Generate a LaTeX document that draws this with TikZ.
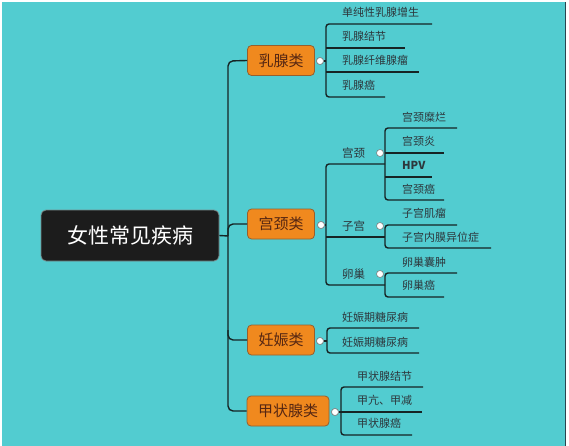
\documentclass[tikz,border=0pt]{standalone}
\usepackage{fontspec}
\setmainfont{Noto Sans CJK SC}
\setsansfont{Noto Sans CJK SC}
\definecolor{bgteal}{RGB}{82,204,208}
\definecolor{linedark}{RGB}{22,36,36}
\definecolor{leaftext}{RGB}{45,55,60}
\definecolor{orangefill}{RGB}{240,137,30}
\definecolor{orangeedge}{RGB}{150,95,45}
\definecolor{branchtext}{RGB}{85,38,18}
\definecolor{knobedge}{RGB}{120,130,130}
\definecolor{rootfill}{RGB}{28,28,28}
\definecolor{rootedge}{RGB}{120,140,140}
\definecolor{frameedge}{RGB}{40,70,80}
\begin{document}
\begin{tikzpicture}[x=1pt,y=-1pt,
  conn/.style={draw=linedark, line width=1.4pt},
  rc/.style={rounded corners=3pt},
  leaf/.style={anchor=west, inner sep=0pt, text=leaftext, font=\fontsize{11}{13}\selectfont},
  mid/.style={anchor=west, inner sep=0pt, text=leaftext, font=\fontsize{11.5}{13}\selectfont},
  branch/.style={draw=orangeedge, line width=0.8pt, fill=orangefill, rounded corners=4pt, inner sep=0pt, minimum height=30pt, text=branchtext, font=\fontsize{15}{17}\selectfont},
  knob/.style={circle, draw=knobedge, line width=0.6pt, fill=white, inner sep=0pt, minimum size=7pt}
]
\useasboundingbox (0,0) rectangle (569,446);
\fill[white] (0,0) rectangle (569,446);
\fill[bgteal] (2,2) rectangle (565,446);
\draw[frameedge, line width=1pt] (565.5,2) -- (565.5,446);

% root
\node[draw=rootedge, line width=0.8pt, fill=rootfill, rounded corners=5pt, minimum width=178pt, minimum height=51pt, inner sep=0pt, text=white, font=\fontsize{21}{24}\selectfont] (root) at (130,235.5) {女性常见疾病};

% branches
\node[branch, minimum width=67pt] (b1) at (281,60.5) {乳腺类};
\node[branch, minimum width=67pt] (b2) at (281,224) {宫颈类};
\node[branch, minimum width=67pt] (b3) at (281,340) {妊娠类};
\node[branch, minimum width=82pt] (b4) at (288,411) {甲状腺类};

% trunk
\coordinate (t1) at (228,61);
\coordinate (t4) at (228,411);
\coordinate (tr) at (228,236);
\coordinate (t3) at (228,330);
\draw[conn, rounded corners=5pt] (b1.west) -- (t1) -- (t4) -- (b4.west);
\draw[conn] (root.east) -- (tr);
\draw[conn, rounded corners=5pt] (tr) |- (b2.west);
\draw[conn, rounded corners=5pt] (t3) |- (b3.west);

% group 1
\node[knob] (k1) at (320,61) {};
\draw[conn] (k1.east) -- (326,61);
\draw[conn, rc] (432,24) -- (326,24) -- (326,97) -- (385,97);
\draw[conn] (326,48) -- (405,48);
\draw[conn] (326,72) -- (419,72);
\node[leaf] (l11) at (342,12.5) {单纯性乳腺增生};
\node[leaf] (l12) at (342,36.5) {乳腺结节};
\node[leaf] (l13) at (342,60.5) {乳腺纤维腺瘤};
\node[leaf] (l14) at (342,85.5) {乳腺癌};
\node[knob] at (k1) {};

% group 2
\node[knob] (k2) at (321,225) {};
\draw[conn] (k2.east) -- (326,225);
\draw[conn, rc] (385,164) -- (326,164) -- (326,285) -- (385,285);
\draw[conn] (326,237) -- (385,237);
\node[mid] (m1) at (342,153) {宫颈};
\node[mid] (m2) at (342,226) {子宫};
\node[mid] (m3) at (342,274) {卵巢};
% 宫颈 sub
\draw[conn, rc] (457,128) -- (385,128) -- (385,200) -- (444,200);
\draw[conn] (385,153) -- (444,153);
\draw[conn] (385,177) -- (432,177);
\node[leaf] (l21) at (402,117) {宫颈糜烂};
\node[leaf] (l22) at (402,141.5) {宫颈炎};
\node[leaf, font=\fontsize{11}{13}\selectfont\bfseries] (l23) at (402,165.5) {HPV};
\node[leaf] (l24) at (402,189) {宫颈癌};
% 子宫 sub
\draw[conn, rc] (457,225) -- (385,225) -- (385,248) -- (491,248);
\node[leaf] (l25) at (402,213) {子宫肌瘤};
\node[leaf] (l26) at (402,237) {子宫内膜异位症};
% 卵巢 sub
\draw[conn, rc] (457,273) -- (385,273) -- (385,297) -- (444,297);
\node[leaf] (l27) at (402,262) {卵巢囊肿};
\node[leaf] (l28) at (402,285.5) {卵巢癌};
\node[knob] at (k2) {};
\node[knob] (k21) at (380,153) {};
\node[knob] (k22) at (380,226) {};
\node[knob] (k23) at (380,274) {};

% group 3
\node[knob] (k3) at (320,341) {};
\draw[conn] (k3.east) -- (327,341);
\draw[conn, rc] (419,328) -- (327,328) -- (327,353) -- (419,353);
\node[leaf] (l31) at (342,317) {妊娠期糖尿病};
\node[leaf] (l32) at (342,342) {妊娠期糖尿病};
\node[knob] at (k3) {};

% group 4
\node[knob] (k4) at (335,412) {};
\draw[conn] (k4.east) -- (422,412);
\draw[conn, rc] (423,387) -- (341,387) -- (341,435) -- (412,435);
\node[leaf] (l41) at (357,376) {甲状腺结节};
\node[leaf] (l42) at (357,400.5) {甲亢、甲减};
\node[leaf] (l43) at (357,423.5) {甲状腺癌};
\node[knob] at (k4) {};
\end{tikzpicture}
\end{document}
